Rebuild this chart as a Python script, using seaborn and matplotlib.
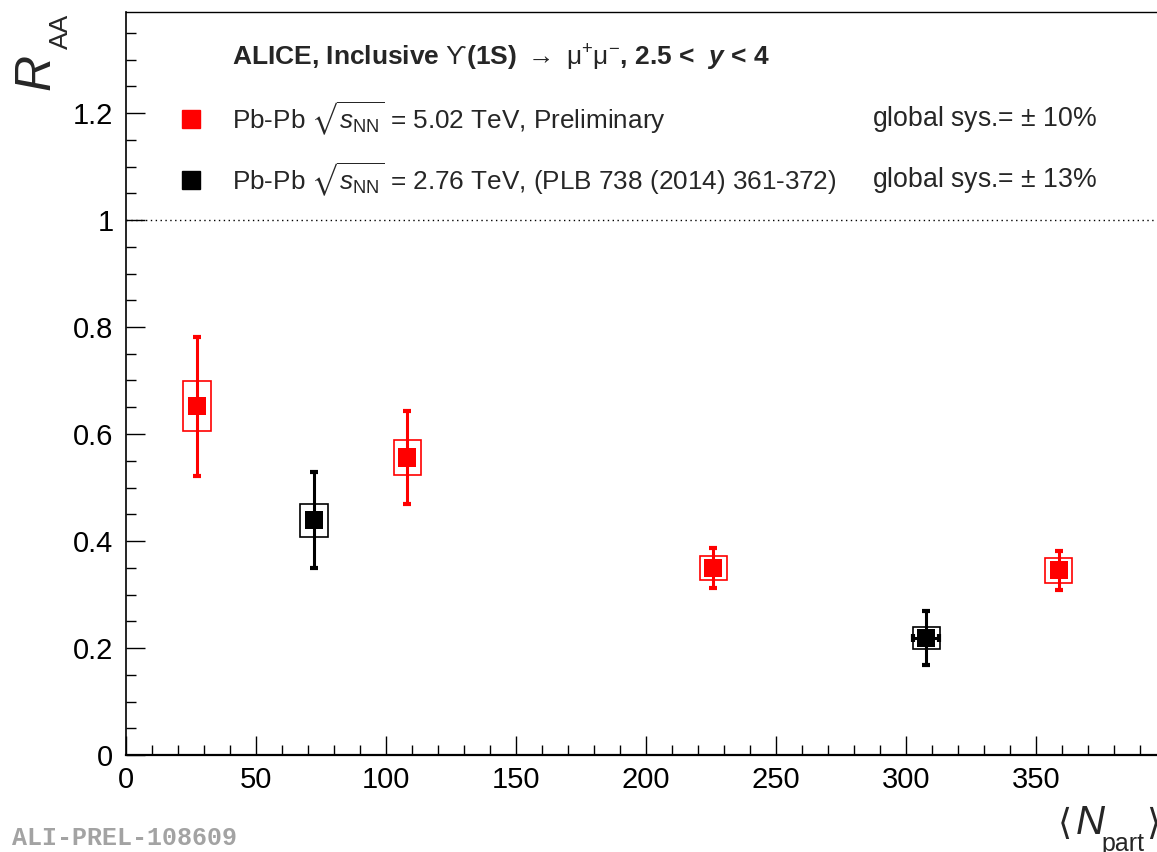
import numpy as np
import pandas as pd
import matplotlib
matplotlib.use("Agg")
import matplotlib.pyplot as plt
from matplotlib.patches import Rectangle
import seaborn as sns

# ---------------- data ----------------
npart_502 = [27.3, 108.1, 225.9, 358.7]
raa_502 = [0.652, 0.556, 0.350, 0.345]
stat_502 = [0.130, 0.087, 0.037, 0.037]
sys_502 = [0.047, 0.033, 0.022, 0.023]

npart_276 = [72.3, 307.7]
raa_276 = [0.439, 0.219]
stat_276 = [0.090, 0.050]
sys_276 = [0.031, 0.021]
npart_err_276 = [0.0, 5.0]

xticks = [0, 50, 100, 150, 200, 250, 300, 350]
yticks = [0, 0.2, 0.4, 0.6, 0.8, 1.0, 1.2]
ytick_labels = ["0", "0.2", "0.4", "0.6", "0.8", "1", "1.2"]

df502 = pd.DataFrame({"npart": npart_502, "raa": raa_502})
df276 = pd.DataFrame({"npart": npart_276, "raa": raa_276})

# ---------------- style ----------------
sns.set_theme(style="ticks")
plt.rcParams["font.family"] = ["Liberation Sans", "DejaVu Sans"]
plt.rcParams["mathtext.fontset"] = "custom"
plt.rcParams["mathtext.rm"] = "Liberation Sans"
plt.rcParams["mathtext.it"] = "Liberation Sans:italic"
plt.rcParams["mathtext.bf"] = "Liberation Sans:italic:bold"
plt.rcParams["mathtext.fallback"] = "stix"

W, H = 1157, 852
fig = plt.figure(figsize=(W / 100, H / 100), dpi=100)
fig.patch.set_facecolor("white")
ax = fig.add_axes([126 / W, 97 / H, 1040 / W, 743 / H])
ax.set_facecolor("white")
ax.set_xlim(0, 400)
ax.set_ylim(0, 743 / 535)

RED = "#ff0000"
BLK = "#000000"
box_hw = 5.2

# systematic boxes
for x, y, s in zip(npart_502, raa_502, sys_502):
    ax.add_patch(Rectangle((x - box_hw, y - s), 2 * box_hw, 2 * s, fill=False,
                           edgecolor=RED, lw=1.2, zorder=2))
for x, y, s in zip(npart_276, raa_276, sys_276):
    ax.add_patch(Rectangle((x - box_hw, y - s), 2 * box_hw, 2 * s, fill=False,
                           edgecolor=BLK, lw=1.2, zorder=2))

# statistical error bars
ax.errorbar(npart_502, raa_502, yerr=stat_502, fmt="none", ecolor=RED,
            elinewidth=2.2, capsize=3.0, capthick=3, zorder=3)
ax.errorbar(npart_276, raa_276, yerr=stat_276, xerr=npart_err_276, fmt="none",
            ecolor=BLK, elinewidth=2.2, capsize=3.0, capthick=3, zorder=3)

# markers
sns.scatterplot(data=df502, x="npart", y="raa", marker="s", s=170, color=RED,
                edgecolor="none", linewidth=0, ax=ax, zorder=4, legend=False)
sns.scatterplot(data=df276, x="npart", y="raa", marker="s", s=170, color=BLK,
                edgecolor="none", linewidth=0, ax=ax, zorder=4, legend=False)

# dotted unity line
ax.axhline(1.0, ls=(0, (1, 2.5)), color="black", lw=1.0, zorder=1)

# axes styling
ax.set_xticks(xticks)
ax.set_xticklabels([str(t) for t in xticks])
ax.set_yticks(yticks)
ax.set_yticklabels(ytick_labels)
ax.set_xticks(np.arange(0, 401, 10), minor=True)
ax.set_yticks(np.arange(0, 1.39, 0.05), minor=True)
ax.tick_params(axis="both", which="major", direction="in", length=14, width=1.0,
               labelsize=21, color="black", labelcolor="black")
ax.tick_params(axis="both", which="minor", direction="in", length=7, width=1.0,
               color="black")
ax.tick_params(axis="y", which="both", left=True, right=False, pad=9)
ax.tick_params(axis="x", which="both", bottom=True, top=False, pad=8)
ax.set_xlabel("")
ax.set_ylabel("")
for side in ["left", "top", "bottom", "right"]:
    ax.spines[side].set_color("black")
ax.spines["left"].set_linewidth(1.2)
ax.spines["bottom"].set_linewidth(1.6)
ax.spines["top"].set_linewidth(1.0)
ax.spines["right"].set_visible(False)
ax.grid(False)

# header / legend
ax.text(40.8, 1.303,
        r"ALICE, Inclusive $\mathrm{ϒ}$(1S) $\rightarrow$ $\mathrm{\mu}^{+}\mathrm{\mu}^{-}$, 2.5 <  $\mathbf{y}$ < 4",
        fontsize=19, fontweight="bold", va="center", ha="left")
ax.plot([25.0], [1.189], marker="s", ms=13, color=RED, ls="none")
ax.plot([25.0], [1.075], marker="s", ms=13, color=BLK, ls="none")
ax.text(40.8, 1.189, r"Pb-Pb $\sqrt{s_{\rm NN}}$ = 5.02 TeV, Preliminary",
        fontsize=18.8, va="center", ha="left")
ax.text(40.8, 1.075, r"Pb-Pb $\sqrt{s_{\rm NN}}$ = 2.76 TeV, (PLB 738 (2014) 361-372)",
        fontsize=18.8, va="center", ha="left")
ax.text(286.9, 1.189, r"global sys.= $\pm$ 10%", fontsize=19.2, va="center", ha="left")
ax.text(286.9, 1.075, r"global sys.= $\pm$ 13%", fontsize=19.2, va="center", ha="left")

# axis titles
fig.text(36 / W, 1 - 72 / H, "R", fontsize=36, style="italic", rotation=90,
         ha="center", va="center")
fig.text(61 / W, 1 - 31 / H, "AA", fontsize=19, rotation=90,
         ha="center", va="center")
fig.text(1058 / W, 1 - 834 / H, "\u27e8", fontsize=26, ha="left", va="baseline",
         family=["DejaVu Sans"])
fig.text(1076 / W, 1 - 834 / H, "N", fontsize=29, style="italic", ha="left",
         va="baseline")
fig.text(1101 / W, 1 - 851 / H, "part", fontsize=18, ha="left", va="baseline")
fig.text(1146 / W, 1 - 834 / H, "\u27e9", fontsize=26, ha="left", va="baseline",
         family=["DejaVu Sans"])

# watermark
fig.text(12 / W, 1 - 845 / H, "ALI-PREL-108609", fontsize=18, fontweight="bold",
         family=["Liberation Mono", "DejaVu Sans Mono"], color="#a3a3a3",
         ha="left", va="baseline")

fig.savefig("out.png", dpi=100)
